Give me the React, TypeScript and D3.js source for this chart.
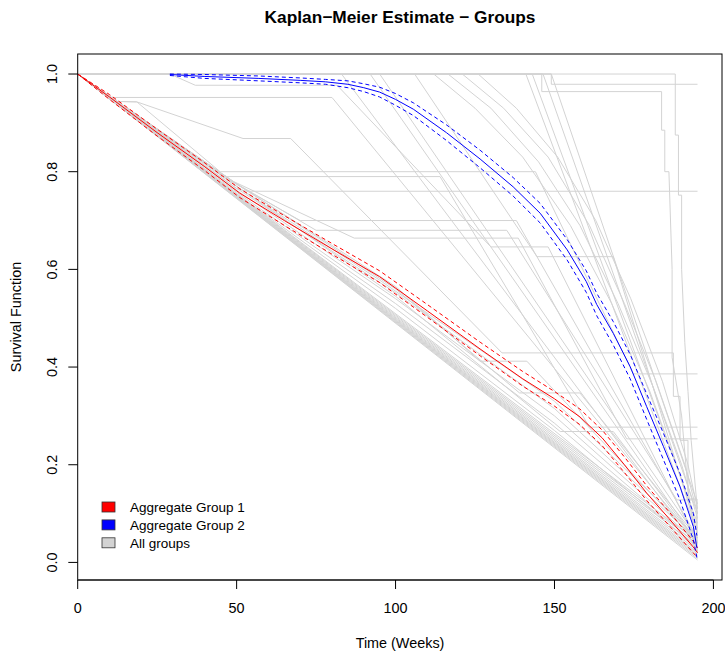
import React from 'react';
import * as d3 from 'd3';

const W = 725;
const H = 652;

const xTicks = [0, 50, 100, 150, 200];
const yTicks = [0, 0.2, 0.4, 0.6, 0.8, 1.0];
const legendLabels = ['Aggregate Group 1', 'Aggregate Group 2', 'All groups'];
const legendColors = ['#ff0000', '#0000ff', '#d3d3d3'];

// Aggregate Group 1 (red): week, survival, upper and lower confidence limits
const redT = [0, 10, 25, 40, 51, 65, 80, 95, 110, 126.6, 140, 150, 158, 165, 172, 179, 186, 193.6, 195];
const redS = [1, 0.953, 0.88, 0.81, 0.756, 0.7, 0.642, 0.585, 0.515, 0.437, 0.376, 0.335, 0.298, 0.255, 0.2, 0.142, 0.09, 0.032, 0.02];
const redUp = [1, 0.958, 0.887, 0.818, 0.765, 0.71, 0.653, 0.597, 0.528, 0.451, 0.391, 0.35, 0.314, 0.271, 0.216, 0.157, 0.104, 0.044, 0.03];
const redLo = [1, 0.948, 0.873, 0.802, 0.747, 0.69, 0.631, 0.573, 0.502, 0.423, 0.361, 0.32, 0.282, 0.239, 0.184, 0.127, 0.076, 0.02, 0.01];

// Aggregate Group 2 (blue)
const blueT = [29, 40, 57, 70, 78, 85, 90, 95, 100, 105.6, 116, 126.6, 137, 145.5, 154, 160, 163.3, 168.5, 173.8, 179, 184.3, 189.5, 193.7, 194.8];
const blueS = [0.999, 0.995, 0.991, 0.987, 0.984, 0.979, 0.972, 0.963, 0.948, 0.928, 0.88, 0.826, 0.769, 0.715, 0.64, 0.575, 0.528, 0.469, 0.401, 0.319, 0.237, 0.155, 0.073, 0.03];
const blueUp = [1, 0.999, 0.996, 0.992, 0.989, 0.986, 0.98, 0.973, 0.96, 0.941, 0.896, 0.844, 0.788, 0.735, 0.661, 0.597, 0.551, 0.493, 0.426, 0.345, 0.264, 0.182, 0.1, 0.055];
const blueLo = [0.997, 0.991, 0.986, 0.982, 0.979, 0.972, 0.964, 0.953, 0.936, 0.915, 0.864, 0.808, 0.75, 0.695, 0.619, 0.553, 0.505, 0.445, 0.376, 0.293, 0.21, 0.128, 0.046, 0.01];

// Individual groups (gray): [week, survival] knots
const bundleCurves: [number, number][][] = [
  [[0, 1], [195, 0.005]],
  [[0, 1], [195, 0.008]],
  [[0, 1], [195, 0.011]],
  [[0, 1], [195, 0.014]],
  [[0, 1], [195, 0.017]],
  [[0, 1], [195, 0.02]],
  [[0, 1], [195, 0.024]],
  [[0, 1], [195, 0.028]],
  [[0, 1], [195, 0.033]],
  [[0, 1], [195, 0.038]],
  [[0, 1], [195, 0.043]],
  [[0, 1], [50, 0.755], [100, 0.52], [150, 0.27], [195, 0.03]],
  [[0, 1], [50, 0.758], [100, 0.53], [150, 0.285], [195, 0.035]],
  [[0, 1], [50, 0.762], [100, 0.54], [150, 0.3], [195, 0.04]],
  [[0, 1], [50, 0.766], [100, 0.552], [150, 0.315], [195, 0.045]],
  [[0, 1], [50, 0.77], [95, 0.578], [150, 0.33], [195, 0.05]],
  [[0, 1], [50, 0.775], [100, 0.565], [126.6, 0.412], [141.3, 0.412], [195, 0.04]],
  [[0, 1], [50, 0.775], [100, 0.56], [139, 0.347], [158, 0.347], [195, 0.05]],
  [[0, 1], [50, 0.77], [100, 0.545], [151.8, 0.268], [168.5, 0.268], [195, 0.04]],
  [[0, 1], [50, 0.765], [53.2, 0.76], [195, 0.76]],
];

const plateauCurves: [number, number][][] = [
  [[0, 1], [11, 0.944], [18.6, 0.943], [52, 0.868], [67, 0.868], [133.5, 0.429], [187.4, 0.429], [187.4, 0.34], [189.5, 0.34], [189.5, 0.25], [192, 0.25], [192, 0.13], [194.8, 0.13], [194.8, 0.03]],
  [[0, 1], [11, 0.944], [18.6, 0.943], [44.8, 0.8], [144, 0.8], [174.8, 0.386], [195, 0.386]],
  [[0, 1], [9.5, 0.952], [80, 0.952], [195, 0.04]],
  [[0, 1], [29, 1], [37, 0.977], [81.6, 0.977], [130, 0.646], [148, 0.646], [195, 0.04]],
  [[0, 1], [43, 0.79], [114, 0.79], [161, 0.277], [195, 0.277]],
  [[0, 1], [47, 0.785], [70, 0.7], [138, 0.7], [195, 0.05]],
  [[0, 1], [48, 0.783], [75, 0.68], [135, 0.68], [188.5, 0.128], [195, 0.128]],
  [[0, 1], [49, 0.78], [87, 0.664], [138.6, 0.664], [172.7, 0.253], [195, 0.253]],
];

const lateCurves: [number, number][][] = [
  [[0, 1], [83, 1], [195, 0.03]],
  [[0, 1], [92, 1], [195, 0.04]],
  [[0, 1], [95, 1], [195, 0.05]],
  [[0, 1], [106, 1], [144.5, 0.626], [168.5, 0.626], [195, 0.06]],
  [[0, 1], [112, 1], [125, 0.93], [140, 0.83], [155, 0.69], [168, 0.53], [180, 0.35], [190, 0.17], [195, 0.07]],
  [[0, 1], [116.5, 1], [130, 0.93], [145, 0.82], [158, 0.69], [170, 0.53], [181, 0.36], [190, 0.2], [195, 0.09]],
  [[0, 1], [121, 1], [134, 0.93], [148, 0.83], [161, 0.69], [172, 0.53], [182, 0.37], [191, 0.2], [195, 0.1]],
  [[0, 1], [126, 1], [138, 0.93], [151, 0.83], [163, 0.7], [174, 0.54], [184, 0.37], [192, 0.2], [195, 0.11]],
  [[0, 1], [141, 1], [195, 0.06]],
  [[0, 1], [143, 1], [195, 0.08]],
  [[0, 1], [146.4, 1], [195, 0.1]],
  [[0, 1], [149, 1], [195, 0.12]],
  [[0, 1], [149, 1], [149, 0.979], [195, 0.979]],
  [[0, 1], [146, 1], [146, 0.964], [183.7, 0.964], [183.7, 0.885], [184.7, 0.885], [184.7, 0.8], [186, 0.8], [187, 0.6], [187, 0.42], [190, 0.3], [192, 0.15], [195, 0.02]],
  [[0, 1], [188, 1], [188, 0.875], [189, 0.875], [189, 0.752], [190, 0.752], [190, 0.6], [191, 0.45], [192, 0.35], [193, 0.25], [194.8, 0.12], [194.8, 0.02]],
];

const grayCurves = [...bundleCurves, ...plateauCurves, ...lateCurves];

const x = d3.scaleLinear().domain([0, 202.7]).range([77.7, 722]);
const y = d3.scaleLinear().domain([-0.036, 1.041]).range([580, 54]);

const zipLine = (t: number[], s: number[]) => t.map((v, i) => [v, s[i]] as [number, number]);
const line = d3.line<[number, number]>().x(d => x(d[0])).y(d => y(d[1]));

const FONT = '"Liberation Sans", Arial, Helvetica, sans-serif';

export default function App() {
  const left = x(0);
  const right = 722;
  const top = 54;
  const bottom = 580;
  return (
    <svg width={W} height={H} style={{ position: 'absolute', left: 0, top: 0, background: '#fff' }} fontFamily={FONT}>
      <rect x={0} y={0} width={W} height={H} fill="#fff" />
      <defs>
        <clipPath id="plotclip">
          <rect x={left} y={top} width={right - left} height={bottom - top} />
        </clipPath>
      </defs>
      <text x={400} y={23} textAnchor="middle" fontSize={17.3} fontWeight="bold" fill="#000">
        Kaplan−Meier Estimate − Groups
      </text>
      <g clipPath="url(#plotclip)">
        {grayCurves.map((c, i) => (
          <path key={i} d={line(c) || ''} fill="none" stroke="#d3d3d3" strokeWidth={1} />
        ))}
        <path d={line(zipLine(redT, redUp)) || ''} fill="none" stroke="#ff0000" strokeWidth={1} strokeDasharray="4,3" />
        <path d={line(zipLine(redT, redLo)) || ''} fill="none" stroke="#ff0000" strokeWidth={1} strokeDasharray="4,3" />
        <path d={line(zipLine(redT, redS)) || ''} fill="none" stroke="#ff0000" strokeWidth={1} />
        <path d={line(zipLine(blueT, blueUp)) || ''} fill="none" stroke="#0000ff" strokeWidth={1} strokeDasharray="4,3" />
        <path d={line(zipLine(blueT, blueLo)) || ''} fill="none" stroke="#0000ff" strokeWidth={1} strokeDasharray="4,3" />
        <path d={line(zipLine(blueT, blueS)) || ''} fill="none" stroke="#0000ff" strokeWidth={1} />
      </g>
      <rect x={left} y={top} width={right - left} height={bottom - top} fill="none" stroke="#000" strokeWidth={1} />
      <line x1={x(0)} x2={x(200)} y1={bottom} y2={bottom} stroke="#333" strokeWidth={1.5} />
      {xTicks.map(t => (
        <g key={t}>
          <line x1={x(t)} x2={x(t)} y1={bottom} y2={bottom + 9} stroke="#000" />
          <text x={x(t)} y={613} textAnchor="middle" fontSize={14.4} fill="#000">{t}</text>
        </g>
      ))}
      {yTicks.map(v => (
        <g key={v}>
          <line x1={left - 9.4} x2={left} y1={y(v)} y2={y(v)} stroke="#000" />
          <text transform={`translate(${57},${y(v)}) rotate(-90)`} textAnchor="middle" fontSize={14.4} fill="#000">{v.toFixed(1)}</text>
        </g>
      ))}
      <text x={400} y={648} textAnchor="middle" fontSize={14.4} fill="#000">Time (Weeks)</text>
      <text transform={`translate(21,${(top + bottom) / 2}) rotate(-90)`} textAnchor="middle" fontSize={14.4} fill="#000">Survival Function</text>
      {legendLabels.map((lab, i) => (
        <g key={lab}>
          <rect x={102} y={502 + i * 17.9} width={13} height={10} fill={legendColors[i]} stroke="#333" strokeWidth={0.8} />
          <text x={130} y={512 + i * 17.9} fontSize={13.5} fill="#000">{lab}</text>
        </g>
      ))}
    </svg>
  );
}
